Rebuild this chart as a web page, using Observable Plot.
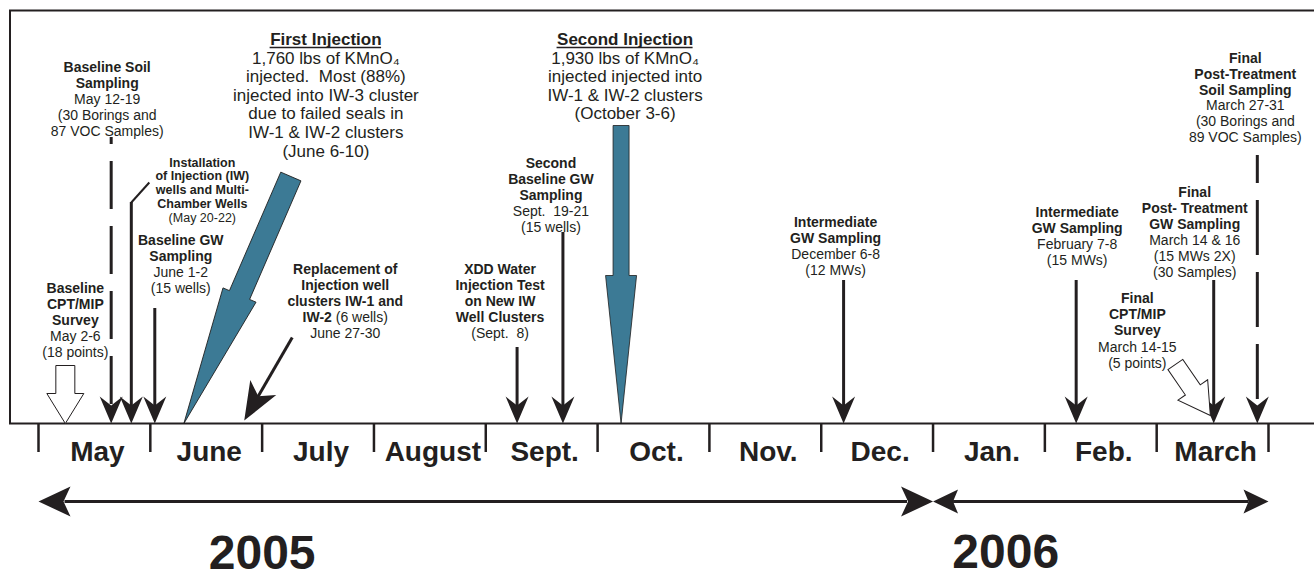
<!DOCTYPE html>
<html><head><meta charset="utf-8">
<script src="https://cdn.jsdelivr.net/npm/d3@7"></script>
<script src="https://cdn.jsdelivr.net/npm/@observablehq/plot@0.6"></script>
<style>html,body{margin:0;padding:0;background:#fff}</style>
</head><body><div id="chart"></div>
<script>
// ---------------- data ----------------
const months = ["May","June","July","August","Sept.","Oct.","Nov.","Dec.","Jan.","Feb.","March"];
const years = ["2005","2006"];
const yearStart = [0, 8];   // month index where each year's span begins
const yearEnd = [8, 11];    // month index where it ends

// months elapsed since 1 May 2005 at each arrow tip
const eventWhen = [0.24, 0.65, 0.83, 1.04, 1.30, 1.84, 4.28, 4.69, 5.21, 7.20, 9.28, 10.48, 10.51, 10.90];
const eventKind = ["hollow","dashed","line","line","injection","diagonal","line","line","injection","line","line","hollow","line","dashed"];
const eventLabels = [
  ["**Baseline**","**CPT/MIP**","**Survey**","May 2-6","(18 points)"],
  ["**Baseline Soil**","**Sampling**","May 12-19","(30 Borings and","87 VOC Samples)"],
  ["**Installation**","**of Injection (IW)**","**wells and Multi-**","**Chamber Wells**","(May 20-22)"],
  ["**Baseline GW**","**Sampling**","June 1-2","(15 wells)"],
  ["__First Injection__","1,760 lbs of KMnO₄","injected.  Most (88%)","injected into IW-3 cluster","due to failed seals in","IW-1 & IW-2 clusters","(June 6-10)"],
  ["**Replacement of**","**Injection well**","**clusters IW-1 and**","**IW-2** (6 wells)","June 27-30"],
  ["**XDD Water**","**Injection Test**","**on New IW**","**Well Clusters**","(Sept.  8)"],
  ["**Second**","**Baseline GW**","**Sampling**","Sept.  19-21","(15 wells)"],
  ["__Second Injection__","1,930 lbs of KMnO₄","injected injected into","IW-1 & IW-2 clusters","(October 3-6)"],
  ["**Intermediate**","**GW Sampling**","December 6-8","(12 MWs)"],
  ["**Intermediate**","**GW Sampling**","February 7-8","(15 MWs)"],
  ["**Final**","**CPT/MIP**","**Survey**","March 14-15","(5 points)"],
  ["**Final**","**Post- Treatment**","**GW Sampling**","March 14 & 16","(15 MWs 2X)","(30 Samples)"],
  ["**Final**","**Post-Treatment**","**Soil Sampling**","March 27-31","(30 Borings and","89 VOC Samples)"]
];

// ---------------- layout (pixels; heights measured upward from the time line) ----------------
const X_RANGE = [38, 1268];
const labelDx   = [10, -4, 71, 26, 142, 101, -17, -12, 4, -8, 1, -73, -19, -12];
const labelY    = [135, 356, 261, 183, 384, 154, 154, 260, 384, 201, 211, 125, 231, 365];
const labelFont = [14, 14, 12.5, 14, 17, 14, 14, 14, 17, 14, 14, 14, 14, 14];
const labelLead = [16, 16, 13.8, 16, 18.6, 16, 16, 16, 18.6, 16, 16, 16.2, 16, 15.8];
const arrowTop  = [null, 286, 221, 115, null, null, 76, 191, null, 143, 143, null, 143, 268];
const tipH      = [0, 0, 0, 0, 0, 3, 0, 0, 0, 0, 0, 8, 0, 0];
const tail      = {0: [0, 58], 4: [107, 247], 5: [48, 83], 8: [0, 298], 11: [-35, 51]};
const connector = {2: [18, 20]};
const yearLabelX = [2.0, 8.65], yearLabelY = [-130, -129];
const INK = "#231f20", TEAL = "#3c7a95";
const FONT = "Liberation Sans, Arial, Helvetica, sans-serif";

const PX_PER_MONTH = (X_RANGE[1] - X_RANGE[0]) / months.length;
const px2m = px => px / PX_PER_MONTH;

// ---------------- symbols ----------------
const stealth = (len, w, notch) => ({draw(c) {
  c.moveTo(0, 0); c.lineTo(-w / 2, -len); c.lineTo(0, -len + notch); c.lineTo(w / 2, -len); c.closePath();
}});
const blockArrow = (len, sw, hw, hl) => ({draw(c) {
  c.moveTo(0, 0); c.lineTo(-hw / 2, -hl); c.lineTo(-sw / 2, -hl); c.lineTo(-sw / 2, -len);
  c.lineTo(sw / 2, -len); c.lineTo(sw / 2, -hl); c.lineTo(hw / 2, -hl); c.closePath();
}});
const angleOf = i => Math.atan2(tail[i][0], tail[i][1]) * 180 / Math.PI;
const lenOf = i => Math.hypot(tail[i][0], tail[i][1]);

// ---------------- label rows ----------------
const ctx = document.createElement("canvas").getContext("2d");
const measure = (t, bold, fs) => { ctx.font = `${bold ? "bold " : ""}${fs}px "Liberation Sans"`; return ctx.measureText(t).width; };
function parseLine(s) {
  const out = []; const re = /\*\*(.+?)\*\*|__(.+?)__|([^*_]+)/g; let m;
  while ((m = re.exec(s))) {
    if (m[1] != null) out.push({text: m[1], bold: true, ul: false});
    else if (m[2] != null) out.push({text: m[2], bold: true, ul: true});
    else out.push({text: m[3], bold: false, ul: false});
  }
  return out;
}
const rows = [], underlines = [];
eventLabels.forEach((lines, e) => {
  const fs = labelFont[e], lh = labelLead[e];
  lines.forEach((line, i) => {
    const pieces = parseLine(line).map(s => {
      const t = s.text.trim();
      const lead = s.text.length - s.text.trimStart().length;
      const trail = s.text.length - s.text.trimEnd().length;
      return {...s, t, lead: measure(" ".repeat(lead), s.bold, fs), w: measure(t, s.bold, fs), trail: measure(" ".repeat(trail), s.bold, fs)};
    });
    const total = d3.sum(pieces, p => p.lead + p.w + p.trail);
    let cur = -total / 2;
    const y = labelY[e] - i * lh;
    for (const p of pieces) {
      cur += p.lead;
      const x = eventWhen[e] + px2m(labelDx[e] + cur);
      rows.push({x, y, text: p.t, bold: p.bold, fs});
      if (p.ul) underlines.push({x1: x, x2: x + px2m(p.w), y: y - 0.47 * fs});
      cur += p.w + p.trail;
    }
  });
});

const idx = kind => eventWhen.map((_, i) => i).filter(i => eventKind[i] === kind);
const lineIdx = idx("line");

const chart = Plot.plot({
  width: 1314, height: 580,
  marginTop: 10, marginLeft: 9.5, marginBottom: 157, marginRight: -3,
  x: {domain: [0, months.length], range: X_RANGE, axis: null},
  y: {domain: [-157, 423], range: [580, 0], axis: null},
  style: {background: "#fff", fontFamily: FONT},
  marks: [
    Plot.frame({stroke: INK, strokeWidth: 2}),
    // month ticks & labels
    Plot.ruleX(d3.range(months.length + 1), {x: d => d, y1: 0, y2: -29, stroke: INK, strokeWidth: 2.5}),
    Plot.text(months, {x: (d, i) => i + 0.5, y: -29, dx: 3, text: d => d, fontSize: 28, fontWeight: "bold", fill: INK, fontFamily: FONT, lineAnchor: "middle"}),
    // year spans
    Plot.link(years, {x1: (d, i) => yearStart[i] + px2m(i ? 20 : 26), x2: (d, i) => yearEnd[i] - px2m(i ? 20 : 26), y1: -78, y2: -78, stroke: INK, strokeWidth: 3}),
    Plot.dot([0], {x: i => yearStart[i], y: -78, symbol: stealth(32, 30, 7), rotate: 90, fill: INK, stroke: "none"}),
    Plot.dot([0], {x: i => yearEnd[i], y: -78, symbol: stealth(32, 30, 7), rotate: -90, fill: INK, stroke: "none"}),
    Plot.dot([1], {x: i => yearStart[i], y: -78, symbol: stealth(25, 24, 5), rotate: 90, fill: INK, stroke: "none"}),
    Plot.dot([1], {x: i => yearEnd[i], y: -78, symbol: stealth(25, 24, 5), rotate: -90, fill: INK, stroke: "none"}),
    Plot.text(years, {x: (d, i) => yearLabelX[i], y: (d, i) => yearLabelY[i], text: d => d, fontSize: 48, fontWeight: "bold", fill: INK, fontFamily: FONT, lineAnchor: "middle"}),
    // solid arrows
    Plot.ruleX(lineIdx, {x: i => eventWhen[i], y1: i => arrowTop[i], y2: 14, stroke: INK, strokeWidth: 3}),
    Plot.ruleX([1], {x: i => eventWhen[i], y1: i => arrowTop[i], y2: 14, stroke: INK, strokeWidth: 3, strokeDasharray: "48,17", strokeDashoffset: 41}),
    Plot.ruleX([13], {x: i => eventWhen[i], y1: i => arrowTop[i], y2: 14, stroke: INK, strokeWidth: 3, strokeDasharray: "55,17", strokeDashoffset: 27}),
    Plot.link(Object.keys(connector).map(Number), {x1: i => eventWhen[i], y1: i => arrowTop[i], x2: i => eventWhen[i] + px2m(connector[i][0]), y2: i => arrowTop[i] + connector[i][1], stroke: INK, strokeWidth: 2}),
    Plot.dot([...lineIdx, 1, 13], {x: i => eventWhen[i], y: i => tipH[i], symbol: stealth(27, 23, 9), fill: INK, stroke: "none"}),
    // replacement (diagonal) arrow
    Plot.link([5], {x1: i => eventWhen[i] + px2m(tail[i][0]), y1: i => tipH[i] + tail[i][1], x2: i => eventWhen[i] + px2m(25 * tail[i][0] / lenOf(i)), y2: i => tipH[i] + 25 * tail[i][1] / lenOf(i), stroke: INK, strokeWidth: 3}),
    Plot.dot([5], {x: i => eventWhen[i], y: i => tipH[i], symbol: stealth(38, 30, 10), rotate: angleOf(5), fill: INK, stroke: "none"}),
    // injections (teal block arrows)
    Plot.dot([4], {x: i => eventWhen[i], y: i => tipH[i], symbol: blockArrow(lenOf(4), 22, 36, 140), rotate: angleOf(4), fill: TEAL, stroke: "#1d1d1d", strokeWidth: 0.8}),
    Plot.dot([8], {x: i => eventWhen[i], y: i => tipH[i], symbol: blockArrow(lenOf(8), 16, 31, 148), rotate: angleOf(8), fill: TEAL, stroke: "#1d1d1d", strokeWidth: 0.8}),
    // CPT/MIP hollow arrows
    Plot.dot([0], {x: i => eventWhen[i], y: i => tipH[i], symbol: blockArrow(lenOf(0), 19, 37, 30), rotate: angleOf(0), fill: "#fff", stroke: INK, strokeWidth: 1}),
    Plot.dot([11], {x: i => eventWhen[i], y: i => tipH[i], symbol: blockArrow(lenOf(11), 18, 36, 31), rotate: angleOf(11), fill: "#fff", stroke: INK, strokeWidth: 1}),
    // labels
    Plot.text(rows.filter(r => r.bold), {x: "x", y: "y", text: "text", fontSize: d => d.fs, fontWeight: "bold", textAnchor: "start", lineAnchor: "middle", fill: INK, fontFamily: FONT}),
    Plot.text(rows.filter(r => !r.bold), {x: "x", y: "y", text: "text", fontSize: d => d.fs, textAnchor: "start", lineAnchor: "middle", fill: INK, fontFamily: FONT}),
    Plot.ruleY(underlines, {x1: "x1", x2: "x2", y: "y", stroke: INK, strokeWidth: 1.3})
  ]
});
document.getElementById("chart").append(chart);
</script>
</body></html>
